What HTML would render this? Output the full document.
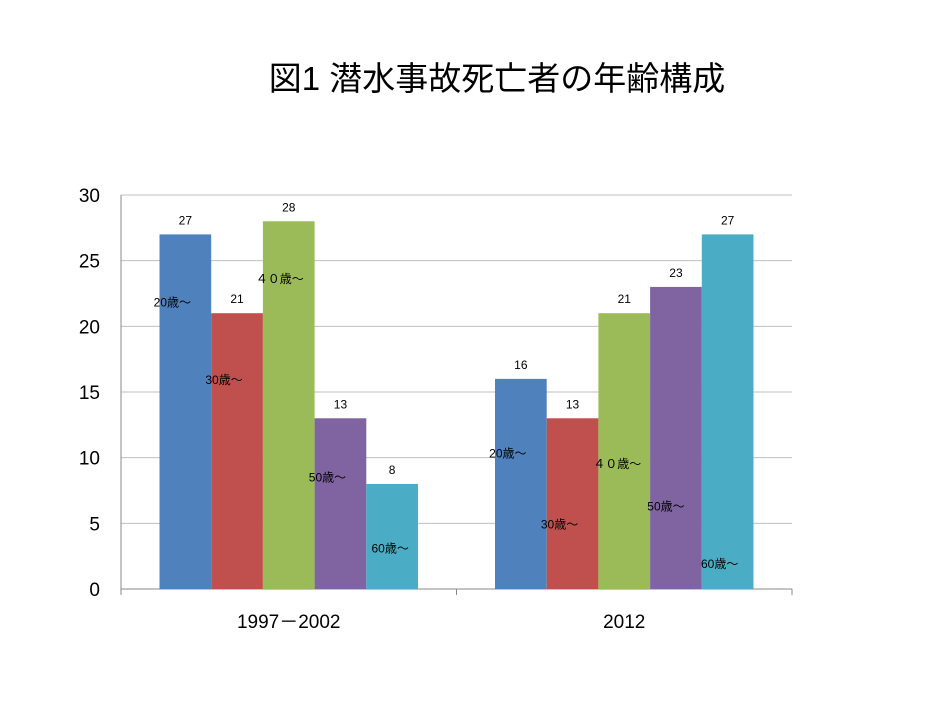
<!DOCTYPE html>
<html><head><meta charset="utf-8"><style>
body{margin:0;background:#fff;}
svg{display:block;font-family:"Liberation Sans","Noto Sans CJK JP",sans-serif;}
</style></head><body>
<svg id="chart" width="948" height="711">
<text x="497" y="90" text-anchor="middle" font-size="33" fill="#000">図1  潜水事故死亡者の年齢構成</text>
</svg>
<script>
const categories=["1997－2002","2012"];
const seriesNames=["20歳～","30歳～","４０歳～","50歳～","60歳～"];
const seriesColors=["#4f81bd","#c0504d","#9bbb59","#8064a2","#4bacc6"];
const values=[[27,21,28,13,8],[16,13,21,23,27]];
const yTicks=[0,5,10,15,20,25,30];
// annotation label value-positions (in data units) for in-bar series labels
const labelY=[[21.8,15.9,23.6,8.5,3.1],[10.3,4.9,9.5,6.3,1.9]];
const labelDx=[[-13,-13,-9,-13,-2],[-13,-13,-7,-10,-8]];

const svg=document.getElementById('chart');
const NS='http://www.w3.org/2000/svg';
const L=121,R=792,T=195,B=589,ymax=30;
const y=v=>B-(v/ymax)*(B-T);
const catW=(R-L)/categories.length;
const barW=51.7;
const x=(c,s)=>L+c*catW+(catW-barW*5)/2+s*barW;
function mk(tag,attrs){const e=document.createElementNS(NS,tag);for(const k in attrs)e.setAttribute(k,attrs[k]);svg.appendChild(e);return e;}

yTicks.forEach(t=>{
  const g=mk('line',{x1:L,x2:R,y1:y(t),y2:y(t),stroke:t===0?'#888':'#bfbfbf','stroke-width':1});
  
  
  const tx=mk('text',{x:100,y:y(t)+7,'text-anchor':'end','font-size':19,fill:'#000'});
  tx.textContent=t;
  
  
});
const ax=mk('line',{x1:L,x2:L,y1:T,y2:B+5,stroke:'#888'});


for(let c=0;c<=categories.length;c++){
  const tk=mk('line',{x1:L+c*catW,x2:L+c*catW,y1:B,y2:B+6,stroke:'#888'});
  
  
}
categories.forEach((cat,c)=>{
  const tx=mk('text',{x:L+c*catW+catW/2,y:628,'text-anchor':'middle','font-size':19,fill:'#000'});
  tx.textContent=cat;
  
  
  values[c].forEach((v,s)=>{
    const bx=x(c,s);
    const r=mk('rect',{x:bx,y:y(v),width:barW,height:B-y(v),fill:seriesColors[s]});
    
    
    const vl=mk('text',{x:bx+barW/2,y:y(v)-10,'text-anchor':'middle','font-size':12,fill:'#000'});
    vl.textContent=v;
    
    
    const sl=mk('text',{x:bx+barW/2+labelDx[c][s],y:y(labelY[c][s])+4,'text-anchor':'middle','font-size':12,fill:'#000'});
    sl.textContent=seriesNames[s];
    
    
  });
});
</script>
</body></html>
